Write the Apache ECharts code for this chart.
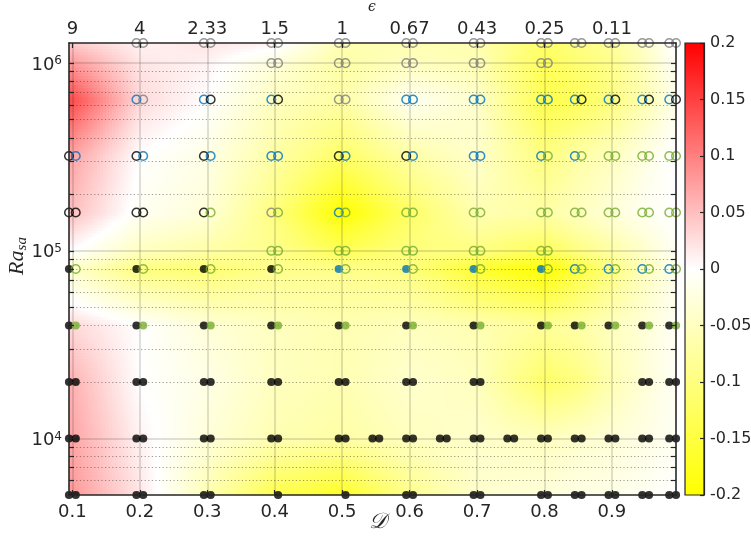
<!DOCTYPE html>
<html>
<head>
<meta charset="utf-8">
<script src="https://cdn.jsdelivr.net/npm/echarts@6/dist/echarts.min.js"></script>
<style>html,body{margin:0;padding:0;background:#ffffff}#chart{width:751px;height:543px}</style>
</head>
<body>
<div id="chart"></div>
<script>
// ---------------- data ----------------
const X_MIN = 0.095, X_MAX = 0.995;
const RA_MIN = 5000, RA_MAX = 1280000;

const X_TICKS = [0.1, 0.2, 0.3, 0.4, 0.5, 0.6, 0.7, 0.8, 0.9];
const EPS_LABELS = ['9', '4', '2.33', '1.5', '1', '0.67', '0.43', '0.25', '0.11'];
const Y_MAJOR = [1e4, 1e5, 1e6];
const Y_MINOR = [6000, 7000, 8000, 9000, 2e4, 3e4, 4e4, 5e4, 6e4, 7e4, 8e4, 9e4,
                 2e5, 3e5, 4e5, 5e5, 6e5, 7e5, 8e5, 9e5];
const CB_TICKS = [-0.2, -0.15, -0.1, -0.05, 0, 0.05, 0.1, 0.15, 0.2];

// D columns and Ra rows of the simulation grid
const D_COLS = [0.1, 0.2, 0.3, 0.4, 0.5, 0.6, 0.7, 0.8, 0.85, 0.9, 0.95, 0.99];
const RA_ROWS = [5000, 1e4, 2e4, 4e4, 8e4, 1e5, 1.6e5, 3.2e5, 6.4e5, 1e6, 1.28e6];

// background field (colour value), one row per Ra, one entry per D column
const FIELD_5000   = [0.08, 0.02, -0.06, -0.14, -0.17, -0.09, -0.04, -0.03, -0.02, -0.02, -0.01, 0.0];
const FIELD_1E4    = [0.07, 0.01, -0.03, -0.06, -0.07, -0.05, -0.04, -0.05, -0.04, -0.03, -0.02, -0.01];
const FIELD_2E4    = [0.06, 0.0, -0.02, -0.05, -0.06, -0.04, -0.05, -0.12, -0.1, -0.06, -0.03, -0.01];
const FIELD_4E4    = [0.03, 0.0, -0.03, -0.05, -0.06, -0.05, -0.06, -0.08, -0.07, -0.05, -0.03, -0.01];
const FIELD_8E4    = [-0.04, -0.1, -0.11, -0.09, -0.09, -0.1, -0.16, -0.2, -0.15, -0.1, -0.05, -0.02];
const FIELD_1E5    = [0.0, -0.05, -0.07, -0.09, -0.13, -0.1, -0.1, -0.13, -0.1, -0.07, -0.04, -0.01];
const FIELD_1_6E5  = [0.05, -0.01, -0.03, -0.1, -0.2, -0.12, -0.06, -0.07, -0.05, -0.03, -0.01, 0.0];
const FIELD_3_2E5  = [0.07, 0.0, -0.02, -0.07, -0.12, -0.07, -0.04, -0.1, -0.07, -0.05, -0.02, 0.0];
const FIELD_6_4E5  = [0.14, 0.03, 0.0, -0.05, -0.07, -0.01, -0.04, -0.14, -0.13, -0.1, -0.06, -0.02];
const FIELD_1E6    = [0.08, 0.02, 0.01, -0.03, -0.07, -0.05, -0.06, -0.13, -0.11, -0.09, -0.05, -0.01];
const FIELD_1_28E6 = [0.04, 0.01, 0.02, 0.01, -0.06, -0.06, -0.06, -0.12, -0.1, -0.08, -0.04, 0.0];

// markers: "left|right" per D column; k=black b=blue g=green x=gray, f=filled o=open, '-'=none
const MK_5000   = ['kf|kf','kf|kf','kf|kf','-|kf','-|kf','kf|kf','kf|kf','kf|kf','kf|kf','kf|kf','kf|kf','kf|kf'];
const MK_1E4    = ['kf|kf','kf|kf','kf|kf','kf|kf','kf|kf','kf|kf','kf|kf','kf|kf','kf|kf','kf|kf','kf|kf','kf|kf'];
const MK_2E4    = ['kf|kf','kf|kf','kf|kf','kf|kf','kf|kf','kf|kf','kf|kf','','','','kf|kf','kf|kf'];
const MK_4E4    = ['kf|gf','kf|gf','kf|gf','kf|gf','kf|gf','kf|gf','kf|gf','kf|gf','kf|gf','kf|gf','kf|gf','kf|gf'];
const MK_8E4    = ['kf|go','kf|go','kf|go','kf|go','bf|go','bf|go','bf|go','bf|go','bo|go','bo|go','bo|go','bo|go'];
const MK_1E5    = ['','','','go|go','go|go','go|go','go|go','go|go','','','',''];
const MK_1_6E5  = ['ko|ko','ko|ko','ko|go','xo|go','bo|go','go|go','go|go','go|go','go|go','go|go','go|go','go|go'];
const MK_3_2E5  = ['ko|bo','ko|bo','ko|bo','bo|bo','ko|bo','ko|bo','bo|bo','bo|go','bo|go','go|go','go|go','go|go'];
const MK_6_4E5  = ['','bo|xo','bo|ko','bo|ko','xo|xo','bo|bo','bo|bo','bo|bo','bo|ko','bo|ko','bo|ko','bo|ko'];
const MK_1E6    = ['','','','xo|xo','xo|xo','xo|xo','xo|xo','xo|xo','','','',''];
const MK_1_28E6 = ['','xo|xo','xo|xo','xo|xo','xo|xo','xo|xo','xo|xo','xo|xo','xo|xo','xo|xo','xo|xo','xo|xo'];
// extra runs at Ra = 1e4
const EXTRA_D_1E4 = [0.55, 0.65, 0.75];
const EXTRA_MK_1E4 = ['kf|kf', 'kf|kf', 'kf|kf'];

// ---------------- build ----------------
const FIELD = [FIELD_5000, FIELD_1E4, FIELD_2E4, FIELD_4E4, FIELD_8E4, FIELD_1E5,
               FIELD_1_6E5, FIELD_3_2E5, FIELD_6_4E5, FIELD_1E6, FIELD_1_28E6];
const MARKS = [MK_5000, MK_1E4, MK_2E4, MK_4E4, MK_8E4, MK_1E5,
               MK_1_6E5, MK_3_2E5, MK_6_4E5, MK_1E6, MK_1_28E6];

const COLORS = {k: '#000000', b: '#0072BD', g: '#77AC30', x: '#808080'};
const TXT = '#262626';
const FONT = 'DejaVu Sans';

function cmap(v) {
  let t = Math.max(-1, Math.min(1, v / 0.2));
  if (t >= 0) {
    const c = Math.round(255 * (1 - t));
    return 'rgb(255,' + c + ',' + c + ')';
  }
  const c = Math.round(255 * (1 + t));
  return 'rgb(255,255,' + c + ')';
}

const FX = [X_MIN].concat(D_COLS).concat([X_MAX]);
function fv(i, j) {
  const ci = Math.min(Math.max(i - 1, 0), D_COLS.length - 1);
  return FIELD[j][ci];
}
const fieldCells = [];
for (let i = 0; i < FX.length - 1; i++) {
  for (let j = 0; j < RA_ROWS.length - 1; j++) {
    fieldCells.push([(FX[i] + FX[i + 1]) / 2, Math.sqrt(RA_ROWS[j] * RA_ROWS[j + 1]), i, j]);
  }
}

function renderField(params, api) {
  const i = api.value(2), j = api.value(3);
  const pA = api.coord([FX[i], RA_ROWS[j]]);
  const pB = api.coord([FX[i + 1], RA_ROWS[j + 1]]);
  const v00 = fv(i, j), v10 = fv(i + 1, j), v01 = fv(i, j + 1), v11 = fv(i + 1, j + 1);
  const x0 = pA[0], w = pB[0] - pA[0], yb = pA[1], h = pA[1] - pB[1];
  const nx = Math.max(1, Math.round(w / 3)), ny = Math.max(1, Math.round(h / 3));
  const children = [];
  for (let a = 0; a < nx; a++) {
    for (let b = 0; b < ny; b++) {
      const tx = (a + 0.5) / nx, ty = (b + 0.5) / ny;
      const v = (1 - tx) * (1 - ty) * v00 + tx * (1 - ty) * v10 + (1 - tx) * ty * v01 + tx * ty * v11;
      children.push({
        type: 'rect', silent: true,
        shape: {x: x0 + a * w / nx, y: yb - (b + 1) * h / ny, width: w / nx + 0.6, height: h / ny + 0.6},
        style: {fill: cmap(v)}
      });
    }
  }
  return {type: 'group', children: children};
}

function markerItem(D, ra, code) {
  const col = COLORS[code[0]];
  if (code[1] === 'f') {
    return {value: [D, ra], symbolSize: 8.2, itemStyle: {color: col, borderWidth: 0}};
  }
  return {value: [D, ra], symbolSize: 8.6, itemStyle: {color: 'rgba(0,0,0,0)', borderColor: col, borderWidth: 1.5}};
}
const leftData = [], rightData = [];
function addPair(D, ra, pair) {
  if (!pair) return;
  const parts = pair.split('|');
  if (parts[0] && parts[0] !== '-') leftData.push(markerItem(D, ra, parts[0]));
  if (parts[1] && parts[1] !== '-') rightData.push(markerItem(D, ra, parts[1]));
}
RA_ROWS.forEach((ra, j) => D_COLS.forEach((D, i) => addPair(D, ra, MARKS[j][i])));
EXTRA_D_1E4.forEach((D, i) => addPair(D, 1e4, EXTRA_MK_1E4[i]));

const gridLines = [];
X_TICKS.forEach(v => gridLines.push({xAxis: v, lineStyle: {type: 'solid', color: 'rgba(38,38,38,0.2)', width: 1.5}}));
Y_MAJOR.forEach(v => gridLines.push({yAxis: v, lineStyle: {type: 'solid', color: 'rgba(38,38,38,0.2)', width: 1.5}}));
Y_MINOR.forEach(v => gridLines.push({yAxis: v, lineStyle: {type: [1.2, 2.4], color: 'rgba(38,38,38,0.45)', width: 1}}));

function isPow10(v) {
  const l = Math.log10(v);
  return Math.abs(l - Math.round(l)) < 1e-6;
}

const axisLineStyle = {color: TXT, width: 1.6};
const option = {
  animation: false,
  backgroundColor: '#ffffff',
  grid: [
    {left: 69, top: 43, right: 75, bottom: 48, outerBoundsMode: 'none', containLabel: false},
    {left: 685, top: 43, width: 19, bottom: 48, outerBoundsMode: 'none', containLabel: false}
  ],
  xAxis: [
    {
      type: 'value', gridIndex: 0, position: 'bottom', min: X_MIN, max: X_MAX, z: 10,
      axisLine: {show: true, onZero: false, lineStyle: axisLineStyle},
      axisTick: {show: true, inside: true, length: 5, customValues: X_TICKS, lineStyle: {color: TXT, width: 1.2}},
      axisLabel: {show: true, customValues: X_TICKS, margin: 8, color: TXT, fontFamily: FONT, fontSize: 18,
                  formatter: v => String(+v.toFixed(2))},
      splitLine: {show: false}
    },
    {
      type: 'value', gridIndex: 0, position: 'top', min: X_MIN, max: X_MAX, z: 10,
      axisLine: {show: true, onZero: false, lineStyle: axisLineStyle},
      axisTick: {show: true, inside: true, length: 5, customValues: X_TICKS, lineStyle: {color: TXT, width: 1.2}},
      axisLabel: {show: true, customValues: X_TICKS, margin: 5, color: TXT, fontFamily: FONT, fontSize: 18,
                  formatter: v => EPS_LABELS[Math.round(v * 10) - 1] || ''},
      splitLine: {show: false}
    },
    {type: 'value', gridIndex: 1, min: 0, max: 1, show: false}
  ],
  yAxis: [
    {
      type: 'log', gridIndex: 0, position: 'left', min: RA_MIN, max: RA_MAX, logBase: 10, z: 10,
      axisLine: {show: true, onZero: false, lineStyle: axisLineStyle},
      axisTick: {show: true, inside: true, length: 5, customValues: Y_MAJOR.concat(Y_MINOR), lineStyle: {color: TXT, width: 1.2}},
      axisLabel: {
        show: true, customValues: Y_MAJOR, margin: 7, color: TXT, fontFamily: FONT,
        formatter: v => isPow10(v) ? '{b|10}{s|' + Math.round(Math.log10(v)) + '}' : '',
        rich: {
          b: {fontSize: 18, fontFamily: FONT, color: TXT, lineHeight: 20, padding: [4, 0, 0, 0]},
          s: {fontSize: 12, fontFamily: FONT, color: TXT, lineHeight: 14, padding: [2, 0, 0, 0], verticalAlign: 'top'}
        }
      },
      splitLine: {show: false}, minorTick: {show: false}, minorSplitLine: {show: false}
    },
    {
      type: 'log', gridIndex: 0, position: 'right', min: RA_MIN, max: RA_MAX, logBase: 10, z: 10,
      axisLine: {show: true, onZero: false, lineStyle: axisLineStyle},
      axisTick: {show: true, inside: true, length: 5, customValues: Y_MAJOR.concat(Y_MINOR), lineStyle: {color: TXT, width: 1.2}},
      axisLabel: {show: false},
      splitLine: {show: false}
    },
    {
      type: 'value', gridIndex: 1, position: 'right', min: -0.2, max: 0.2, interval: 0.05, z: 10,
      axisLine: {show: true, onZero: false, lineStyle: {color: TXT, width: 1.2}},
      axisTick: {show: true, inside: true, length: 4, lineStyle: {color: TXT, width: 1.2}},
      axisLabel: {show: true, margin: 6, color: TXT, fontFamily: FONT, fontSize: 16,
                  formatter: v => String(+(+v).toFixed(2))},
      splitLine: {show: false}
    }
  ],
  graphic: [
    {type: 'text', x: 378, y: 522, z: 20,
     style: {text: '\u{1D49F}', fontSize: 22, fontFamily: 'DejaVu Serif', fontStyle: 'italic', fill: TXT, align: 'center', verticalAlign: 'middle'}},
    {type: 'text', x: 372, y: 7, z: 20,
     style: {text: '\u03F5', fontSize: 14, fontFamily: 'DejaVu Serif', fontStyle: 'italic', fill: TXT, align: 'center', verticalAlign: 'middle'}},
    {type: 'text', x: 18, y: 256, rotation: Math.PI / 2, z: 20,
     style: {text: '{r|Ra}{s|sa}', align: 'center', verticalAlign: 'middle', fill: TXT,
       rich: {
         r: {fontSize: 22, fontFamily: 'Liberation Serif', fontStyle: 'italic', fill: TXT, lineHeight: 24, verticalAlign: 'top'},
         s: {fontSize: 15, fontFamily: 'Liberation Serif', fontStyle: 'italic', fill: TXT, lineHeight: 15, verticalAlign: 'bottom'}
       }}}
  ],
  series: [
    {
      type: 'custom', name: 'field', xAxisIndex: 0, yAxisIndex: 0, z: 1, silent: true,
      renderItem: renderField, data: fieldCells, encode: {x: 0, y: 1}, clip: true
    },
    {
      type: 'line', name: 'grid', xAxisIndex: 0, yAxisIndex: 0, z: 2, silent: true,
      data: [[0.5, 1e4]], symbol: 'none', lineStyle: {opacity: 0},
      markLine: {silent: true, z: 3, symbol: 'none', animation: false, label: {show: false}, data: gridLines}
    },
    {
      type: 'scatter', name: 'left', xAxisIndex: 0, yAxisIndex: 0, z: 6, silent: true, clip: false,
      symbol: 'circle', symbolOffset: [-3.37, 0], data: leftData
    },
    {
      type: 'scatter', name: 'right', xAxisIndex: 0, yAxisIndex: 0, z: 7, silent: true, clip: false,
      symbol: 'circle', symbolOffset: [3.37, 0], data: rightData
    },
    {
      type: 'custom', name: 'colorbar', xAxisIndex: 2, yAxisIndex: 2, z: 1, silent: true,
      data: [[0.5, 0]],
      renderItem: function (params, api) {
        const p0 = api.coord([0, CB_TICKS[CB_TICKS.length - 1]]);
        const p1 = api.coord([1, CB_TICKS[0]]);
        return {
          type: 'rect',
          shape: {x: p0[0], y: p0[1], width: p1[0] - p0[0], height: p1[1] - p0[1]},
          style: {
            fill: {type: 'linear', x: 0, y: 0, x2: 0, y2: 1, colorStops: [
              {offset: 0, color: cmap(CB_TICKS[CB_TICKS.length - 1])},
              {offset: 0.5, color: cmap(0)},
              {offset: 1, color: cmap(CB_TICKS[0])}
            ]},
            stroke: TXT, lineWidth: 1.2
          }
        };
      }
    }
  ]
};

const chart = echarts.init(document.getElementById('chart'), null, {renderer: 'canvas'});
chart.setOption(option);
</script>
</body>
</html>
